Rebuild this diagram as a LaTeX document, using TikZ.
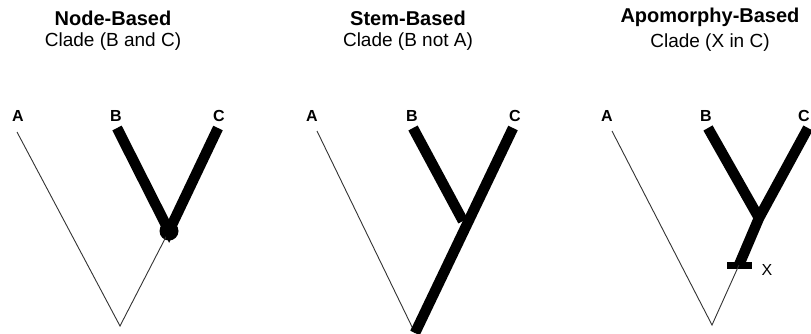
\documentclass[tikz,border=0pt]{standalone}
\usepackage{fontspec}
\setmainfont{Liberation Sans}
\usetikzlibrary{positioning}

\begin{document}
\begin{tikzpicture}[
    x=1pt, y=-1pt,
    every node/.style={font=\fontsize{16}{18}\selectfont},
    title/.style={font=\fontsize{20}{22}\selectfont\bfseries, inner sep=1pt},
    sub/.style={font=\fontsize{19}{21}\selectfont, inner sep=1pt},
    taxon/.style={font=\fontsize{16}{18}\selectfont\bfseries, inner sep=1pt},
    thin/.style={draw=black!80, line width=0.9pt},
    clade/.style={draw=black, line width=10.5pt},
    cladenode/.style={circle, fill=black, minimum width=19pt, minimum height=16pt, inner sep=0pt},
    apo/.style={rectangle, fill=black, minimum width=25pt, minimum height=7pt, inner sep=0pt}
]
\useasboundingbox (0,0) rectangle (811,333);

% --- Node-based ---
\node[title] (t1) at (113,18) {Node-Based};
\node[sub, below=5pt of t1] (s1) {Clade (B and C)};
\node[taxon] (a1) at (18,116) {A};
\node[taxon] (b1) at (116,116) {B};
\node[taxon] (c1) at (219,116) {C};
\coordinate (a1t) at (17,132);
\coordinate (b1t) at (117,128);
\coordinate (c1t) at (218,128);
\coordinate (r1) at (120,326);
\node[cladenode] (n1) at (169,231) {};
\draw[thin] (a1t) -- (r1) -- (n1.center);
\draw[clade] (b1t) -- (n1.center) -- (c1t);

% --- Stem-based ---
\node[title] (t2) at (408,18) {Stem-Based};
\node[sub, below=5pt of t2] (s2) {Clade (B not A)};
\node[taxon] (a2) at (312,116) {A};
\node[taxon] (b2) at (412,116) {B};
\node[taxon] (c2) at (515,116) {C};
\coordinate (a2t) at (317,131);
\coordinate (b2t) at (413,128);
\coordinate (c2t) at (513,128);
\coordinate (j2) at (463,221);
\coordinate (r2) at (415,333);
\draw[thin] (a2t) -- (r2);
\draw[clade] (b2t) -- (j2);
\draw[clade] (c2t) -- (r2);

% --- Apomorphy-based ---
\node[title] (t3) at (710,17) {Apomorphy-Based};
\node[sub, below=5pt of t3] (s3) {Clade (X in C)};
\node[taxon] (a3) at (607,116) {A};
\node[taxon] (b3) at (706,116) {B};
\node[taxon] (c3) at (804,116) {C};
\coordinate (a3t) at (612,131);
\coordinate (b3t) at (708,128);
\coordinate (c3t) at (808,128);
\coordinate (j3) at (759,218);
\coordinate (r3) at (712,325);
\node[apo] (x3) at (739,265) {};
\node[taxon, font=\fontsize{16}{18}\selectfont] (xl) at (767,270) {X};
\draw[thin] (a3t) -- (r3) -- (x3.center);
\draw[clade] (b3t) -- (j3);
\draw[clade] (c3t) -- (j3) -- (x3.center);
\end{tikzpicture}
\end{document}
